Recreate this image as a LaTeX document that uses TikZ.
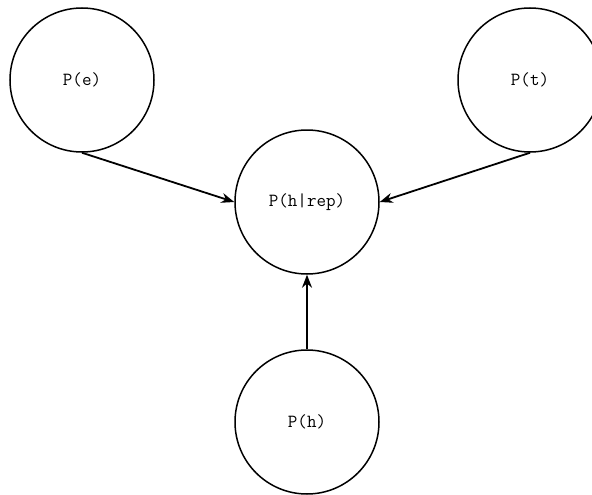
\documentclass[tikz,border=0pt]{standalone}
\usetikzlibrary{arrows.meta}
\begin{document}
\begin{tikzpicture}[x=1pt, y=-1pt, every node/.style = {shape=circle, inner sep=0pt, minimum size=144pt, draw, line width=1.5pt, font=\ttfamily\fontsize{18.5}{22}\selectfont},
          link/.style={line width=1.8pt, -{Stealth[length=13pt, width=10pt]}}]
          \useasboundingbox (0,0) rectangle (592,495);
          \clip (0,0) rectangle (592,495);
          \node (pe) at (82,80) {P(e)};
          \node (pt) at (530,80) {P(t)};
          \node (phrep) at (307,202) {P(h|rep)};
          \node (ph) at (307,422) {P(h)};
          \draw[link] (pe.south) -- (phrep.west);
          \draw[link] (pt.south) -- (phrep.east);
          \draw[link] (ph.north) -- (phrep.south);
\end{tikzpicture}
\end{document}
